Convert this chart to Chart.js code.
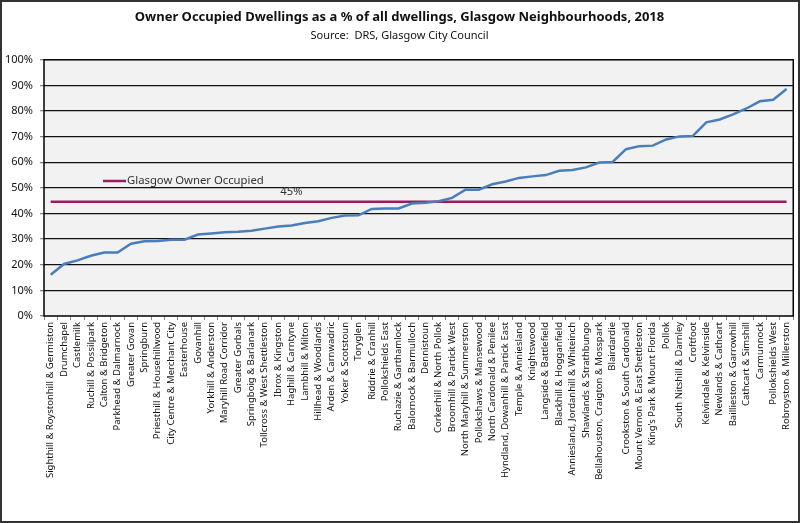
<!DOCTYPE html>
<html><head><meta charset="utf-8">
<script src="https://cdn.jsdelivr.net/npm/chart.js@4/dist/chart.umd.min.js"></script>
<style>html,body{margin:0;padding:0;background:#fff}#wrap{width:800px;height:523px}</style>
</head><body><div id="wrap"><canvas id="c"></canvas></div>
<script>
const titleText = 'Owner Occupied Dwellings as a % of all dwellings, Glasgow Neighbourhoods, 2018';
const subtitleText = 'Source:  DRS, Glasgow City Council';
const neighbourhoods = [
 'Sighthill & Roystonhill & Germiston','Drumchapel','Castlemilk','Ruchill & Possilpark','Calton & Bridgeton',
 'Parkhead & Dalmarnock','Greater Govan','Springburn','Priesthill & Househillwood','City Centre & Merchant City',
 'Easterhouse','Govanhill','Yorkhill & Anderston','Maryhill Road Corridor','Greater Gorbals',
 'Springboig & Barlanark','Tollcross & West Shettleston','Ibrox & Kingston','Haghill & Carntyne','Lambhill & Milton',
 'Hillhead & Woodlands','Arden & Carnwadric','Yoker & Scotstoun','Toryglen','Riddrie & Cranhill',
 'Pollokshields East','Ruchazie & Garthamlock','Balornock & Barmulloch','Dennistoun','Corkerhill & North Pollok',
 'Broomhill & Partick West','North Maryhill & Summerston','Pollokshaws & Mansewood','North Cardonald & Penilee','Hyndland, Dowanhill & Partick East',
 'Temple & Anniesland','Knightswood','Langside & Battlefield','Blackhill & Hogganfield','Anniesland, Jordanhill & Whiteinch',
 'Shawlands & Strathbungo','Bellahouston, Craigton & Mosspark','Blairdardie','Crookston & South Cardonald','Mount Vernon & East Shettleston',
 "King's Park & Mount Florida",'Pollok','South Nitshill & Darnley','Croftfoot','Kelvindale & Kelvinside',
 'Newlands & Cathcart','Baillieston & Garrowhill','Cathcart & Simshill','Carmunnock','Pollokshields West',
 'Robroyston & Millerston'
];
const ownerOccupiedPct = [
 16.1,20.3,21.7,23.5,24.8,24.8,28.2,29.2,29.3,29.8,
 29.8,31.8,32.2,32.7,32.9,33.3,34.1,34.9,35.3,36.3,
 37.0,38.3,39.2,39.3,41.8,42.0,42.0,43.9,44.2,44.8,
 46.1,49.3,49.3,51.4,52.5,53.9,54.5,55.0,56.7,57.0,
 58.0,59.9,60.1,65.1,66.3,66.5,68.9,70.1,70.3,75.6,
 76.7,78.7,81.0,83.8,84.4,88.6
];
const glasgowLabel = 'Glasgow Owner Occupied';
const glasgowPct = 44.6;
const glasgowDisplay = '45%';
const glasgowLabelIndex = 18;
const yTicks = [0,10,20,30,40,50,60,70,80,90,100];

const FONT = 'Noto Sans';

const decor = {
  id:'decor',
  beforeDraw(chart){
    const {ctx, chartArea:a} = chart;
    ctx.save();
    ctx.fillStyle='#fff'; ctx.fillRect(0,0,chart.width,chart.height);
    ctx.fillStyle='#f2f2f2'; ctx.fillRect(a.left,a.top,a.right-a.left,a.bottom-a.top);
    ctx.restore();
  },
  afterDraw(chart){
    const {ctx, chartArea:a, scales} = chart;
    ctx.save();
    ctx.strokeStyle='#000'; ctx.lineWidth=1.5;
    ctx.strokeRect(a.left,a.top,a.right-a.left,a.bottom-a.top);
    ctx.lineWidth=2; ctx.strokeStyle='#333';
    ctx.strokeRect(1,1,chart.width-2,chart.height-2);
    // legend inside plot
    const ds = chart.data.datasets[1];
    const ly = 181;
    ctx.strokeStyle = ds.borderColor; ctx.lineWidth = 2.5;
    ctx.beginPath(); ctx.moveTo(103,ly); ctx.lineTo(126,ly); ctx.stroke();
    ctx.fillStyle='#333'; ctx.font = '11.3px "'+FONT+'"'; ctx.textBaseline='middle'; ctx.textAlign='left';
    ctx.fillText(ds.label, 127, ly);
    // data label
    const x = scales.x.getPixelForValue(glasgowLabelIndex);
    const y = scales.y.getPixelForValue(glasgowPct);
    ctx.textAlign='center';
    ctx.fillText(glasgowDisplay, x, y-10);
    ctx.restore();
  }
};

new Chart(document.getElementById('c'), {
  type:'line',
  data:{
    labels: neighbourhoods,
    datasets:[
      {label:'Owner Occupied', data: ownerOccupiedPct, borderColor:'#4a7ebb', borderWidth:2.5, pointRadius:0, tension:0, fill:false},
      {label: glasgowLabel, data:[{x:neighbourhoods[0],y:glasgowPct},{x:neighbourhoods[neighbourhoods.length-1],y:glasgowPct}], borderColor:'#9c1c5c', borderWidth:2.5, pointRadius:0, tension:0, fill:false}
    ]
  },
  options:{
    responsive:true, maintainAspectRatio:false, animation:false,
    layout:{padding:{left:2,right:3,bottom:2,top:0}},
    plugins:{
      legend:{display:false},
      tooltip:{enabled:false},
      title:{display:true,text:titleText,color:'#111',font:{family:FONT,size:13,weight:'bold'},padding:{top:9,bottom:4}},
      subtitle:{display:true,text:subtitleText,color:'#111',font:{family:FONT,size:11},padding:{top:1,bottom:17}}
    },
    scales:{
      x:{
        offset:true,
        grid:{offset:true,drawOnChartArea:false,drawTicks:true,tickLength:4,tickColor:'#888'},
        border:{display:false},
        ticks:{autoSkip:false,minRotation:90,maxRotation:90,color:'#111',font:{family:FONT,size:9.5},padding:2},
        afterFit(s){ s.height = 205; }
      },
      y:{
        min:0,max:100,
        afterBuildTicks(s){ s.ticks = yTicks.map(v=>({value:v})); },
        grid:{color:c=>(c.tick && (c.tick.value===0||c.tick.value===100))?'rgba(0,0,0,0)':'#111',
              lineWidth:1.3, borderDash:[4,2], drawTicks:true, tickLength:4, tickColor:'#888'},
        border:{display:false},
        ticks:{callback:v=>v+'%',color:'#111',font:{family:FONT,size:11},padding:7},
        afterFit(s){ s.width = 42; }
      }
    }
  },
  plugins:[decor]
});
</script></body></html>
